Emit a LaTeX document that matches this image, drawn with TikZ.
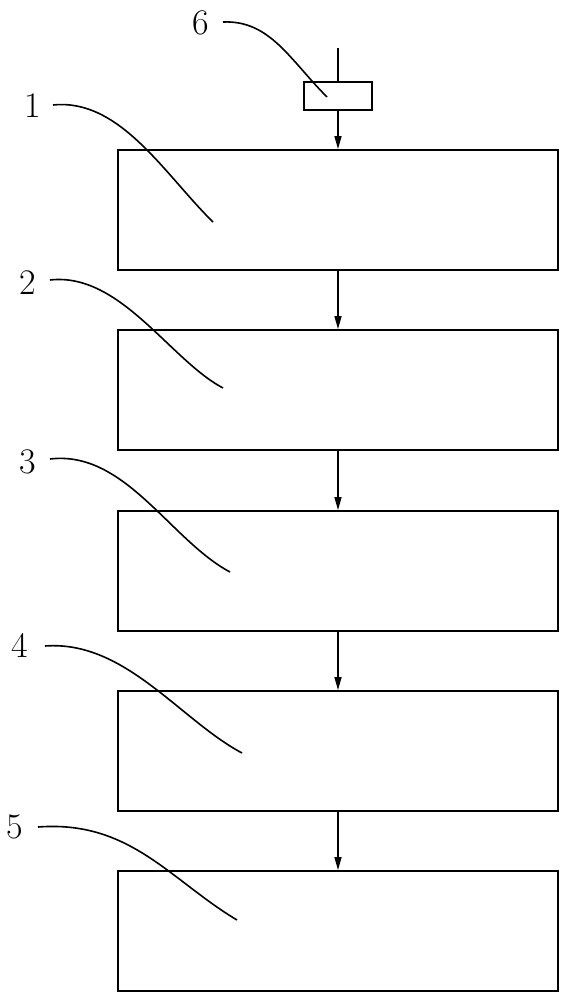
\documentclass[tikz,border=0pt]{standalone}
\usetikzlibrary{arrows.meta}
\begin{document}
\begin{tikzpicture}[x=1pt,y=-1pt,line width=1.8pt,
  blockbox/.style={draw,minimum width=440pt,minimum height=120pt,inner sep=0pt},
  smallbox/.style={draw,minimum width=68pt,minimum height=28pt,inner sep=0pt},
  flow/.style={line width=1.5pt,-{Triangle[length=13pt,width=7pt]}},
  leader/.style={line width=1.6pt},
  numlabel/.style={font=\fontsize{36}{36}\selectfont,inner sep=0pt}]
\useasboundingbox (0,0) rectangle (566,1000);
\node[blockbox] (b1) at (338,210) {};
\node[blockbox] (b2) at (338,390) {};
\node[blockbox] (b3) at (338,571) {};
\node[blockbox] (b4) at (338,751) {};
\node[blockbox] (b5) at (338,931) {};
\node[smallbox] (s6) at (338,96) {};
\coordinate (top) at (338,48);
\draw[line width=1.5pt] (top) -- (s6.north);
\draw[flow] (s6.south) -- (b1.north);
\draw[flow] (b1.south) -- (b2.north);
\draw[flow] (b2.south) -- (b3.north);
\draw[flow] (b3.south) -- (b4.north);
\draw[flow] (b4.south) -- (b5.north);
% labels
\node[numlabel] (l6) at (201,23) {6};
\node[numlabel] (l1) at (33,106) {1};
\node[numlabel] (l2) at (28,283) {2};
\node[numlabel] (l3) at (28,462) {3};
\node[numlabel] (l4) at (20,645) {4};
\node[numlabel] (l5) at (15,827) {5};
\coordinate (e6) at (327,97);
\coordinate (e1) at (213,222);
\coordinate (e2) at (223,388);
\coordinate (e3) at (230,572);
\coordinate (e4) at (242,753);
\coordinate (e5) at (237,920);
\draw[leader] (223,22) .. controls (270,20) and (290,60) .. (e6);
\draw[leader] (53,105) .. controls (120,98) and (165,175) .. (e1);
\draw[leader] (50,280) .. controls (120,272) and (170,360) .. (e2);
\draw[leader] (50,459) .. controls (125,450) and (170,540) .. (e3);
\draw[leader] (45,646) .. controls (125,640) and (180,720) .. (e4);
\draw[leader] (38,827) .. controls (130,820) and (170,880) .. (e5);
\end{tikzpicture}
\end{document}
